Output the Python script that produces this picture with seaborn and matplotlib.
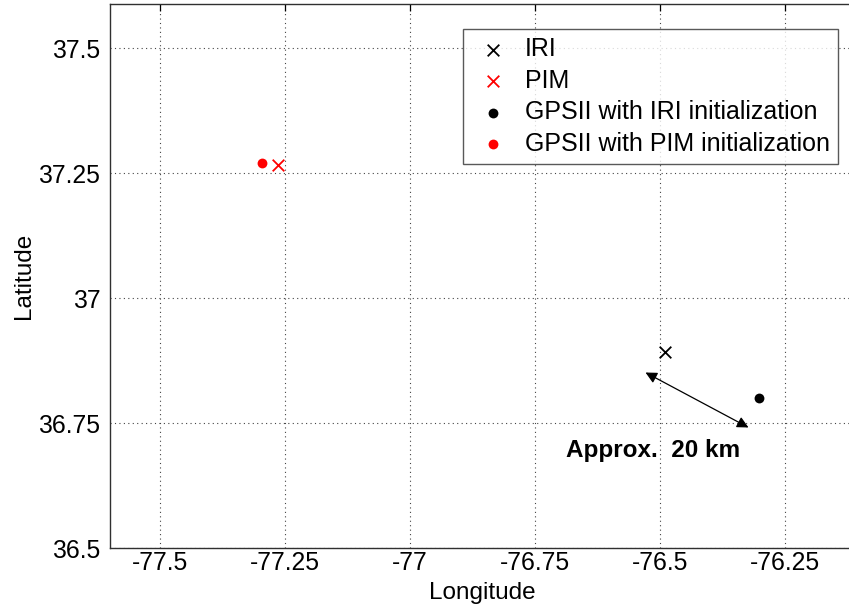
import numpy as np
import pandas as pd
import matplotlib
matplotlib.use("Agg")
import matplotlib.pyplot as plt
import seaborn as sns

# estimated positions
labels = ["IRI", "PIM", "GPSII with IRI initialization", "GPSII with PIM initialization"]
lons = [-76.491, -77.263, -76.303, -77.297]
lats = [36.892, 37.267, 36.800, 37.270]
colors = ["black", "red", "black", "red"]
markers = ["x", "x", "o", "o"]

arrow_start = (-76.529, 36.851)
arrow_end = (-76.323, 36.741)
note_text = "Approx.  20 km"
note_pos = (-76.688, 36.694)

xticks = [-77.5, -77.25, -77, -76.75, -76.5, -76.25]
xticklabels = ["-77.5", "-77.25", "-77", "-76.75", "-76.5", "-76.25"]
yticks = [36.5, 36.75, 37, 37.25, 37.5]
yticklabels = ["36.5", "36.75", "37", "37.25", "37.5"]

df = pd.DataFrame({"label": labels, "lon": lons, "lat": lats})

sns.set_style("white")
plt.rcParams["font.family"] = ["Liberation Sans", "DejaVu Sans"]
plt.rcParams["text.color"] = "black"
plt.rcParams["axes.labelcolor"] = "black"

W, H = 849, 611
fig = plt.figure(figsize=(W / 100, H / 100), dpi=100)
# axes box in pixels: left 110, top 4, bottom 548, right runs past the image edge
left, right, top, bottom = 110, 875, 4, 548
ax = fig.add_axes([left / W, 1 - bottom / H, (right - left) / W, (bottom - top) / H])

for i, row in df.iterrows():
    if markers[i] == "x":
        sns.scatterplot(x=[row["lon"]], y=[row["lat"]], ax=ax, marker="x", color=colors[i],
                        s=70, linewidth=1.3, label=row["label"], zorder=3)
    else:
        sns.scatterplot(x=[row["lon"]], y=[row["lat"]], ax=ax, marker="o", color=colors[i],
                        s=50, edgecolor=colors[i], linewidth=0, label=row["label"], zorder=3)

ax.annotate("", xy=arrow_start, xytext=arrow_end,
            arrowprops=dict(arrowstyle="<|-|>", color="black", lw=0.9,
                            mutation_scale=17, shrinkA=0, shrinkB=0))
ax.text(note_pos[0], note_pos[1], note_text, fontsize=17.5, fontweight="bold",
        ha="left", va="center", color="black")

ax.set_xlim(-77.6, -77.6 + (right - left) / 500)
ax.set_ylim(36.5, 36.5 + (bottom - top) / 500)
ax.set_xticks(xticks)
ax.set_xticklabels(xticklabels)
ax.set_yticks(yticks)
ax.set_yticklabels(yticklabels)

ax.grid(True, linestyle=(0, (1, 3)), color="#444444", linewidth=0.8)
ax.tick_params(direction="in", length=5, width=0.9, top=True, right=True,
               labelsize=17.8, colors="black")
ax.tick_params(axis="x", pad=2.5)
ax.tick_params(axis="y", pad=7)
for sp in ax.spines.values():
    sp.set_color("#303030")
    sp.set_linewidth(1.0)

ax.set_xlabel("Longitude", fontsize=17.5)
ax.set_ylabel("Latitude", fontsize=17.5)
# centre the x label on the visible part of the axes (110..855 px)
ax.xaxis.set_label_coords((482.5 - left) / (right - left), -(582 - bottom) / (bottom - top))
ax.xaxis.label.set_va("top")
ax.yaxis.set_label_coords(-(left - 23.5) / (right - left), 0.5)
ax.yaxis.label.set_va("center")

leg = ax.legend(loc="upper left", bbox_to_anchor=((463 - left) / (right - left), 1 - (29 - top) / (bottom - top)),
                fontsize=18, frameon=True, fancybox=False, edgecolor="#303030",
                borderpad=0.33, labelspacing=0.3, handletextpad=0.45, handlelength=1.7,
                borderaxespad=0)
leg.get_frame().set_linewidth(1.0)
for t in leg.get_texts():
    t.set_color("black")

fig.savefig("out.png", dpi=100)
